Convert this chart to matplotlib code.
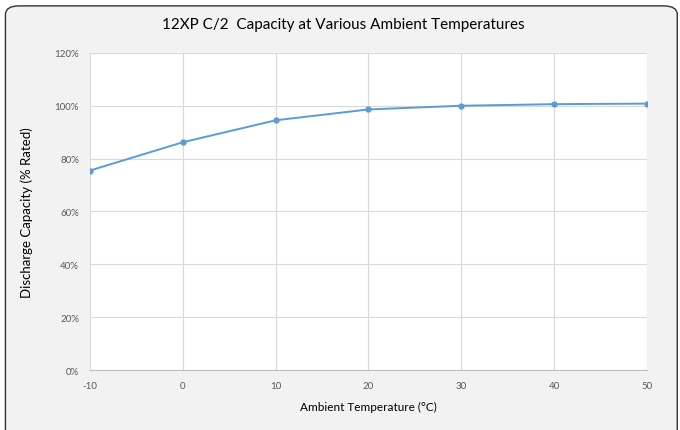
import matplotlib
matplotlib.use("Agg")
import matplotlib.pyplot as plt
from matplotlib.patches import FancyBboxPatch
from matplotlib.ticker import PercentFormatter

# Datos
temps = [-10, 0, 10, 20, 30, 40, 50]
capacity = [75.5, 86.2, 94.5, 98.6, 100.0, 100.6, 100.8]
x_ticks = [-10, 0, 10, 20, 30, 40, 50]
y_ticks = [0, 20, 40, 60, 80, 100, 120]

plt.rcParams["font.family"] = ["Lato", "DejaVu Sans"]
plt.rcParams["axes.unicode_minus"] = False

fig = plt.figure(figsize=(6.8, 4.31), dpi=100)
fig.patch.set_facecolor("white")

# marco redondeado del gráfico
frame = FancyBboxPatch((0.008, -0.05), 0.988, 1.034,
                       boxstyle="round,pad=0,rounding_size=0.02",
                       transform=fig.transFigure, facecolor="#f2f2f2",
                       edgecolor="#333333", linewidth=1.0, zorder=-10)
fig.patches.append(frame)

ax = fig.add_axes([0.1324, 0.139, 0.819, 0.736])
ax.set_facecolor("white")

ax.plot(temps, capacity, color="#5b9bd5", lw=1.4, marker="o", markersize=3.5, zorder=3)

ax.set_xlim(-10, 50)
ax.set_ylim(0, 120)
ax.set_xticks(x_ticks)
ax.set_yticks(y_ticks)
ax.yaxis.set_major_formatter(PercentFormatter(decimals=0))
ax.grid(True, color="#d9d9d9", lw=0.8)
ax.set_axisbelow(True)

for side in ["top", "right", "left"]:
    ax.spines[side].set_visible(False)
ax.spines["bottom"].set_color("#bfbfbf")
ax.tick_params(length=0, labelsize=7, labelcolor="#595959", pad=8)

ax.set_xlabel("Ambient Temperature (°C)", fontsize=8.5, labelpad=8)
ax.set_ylabel("Discharge Capacity (% Rated)", fontsize=9.5, labelpad=15)
fig.text(0.505, 0.942, "12XP C/2  Capacity at Various Ambient Temperatures",
         ha="center", va="center", fontsize=11)

fig.savefig("out.png", dpi=100, facecolor=fig.get_facecolor())
